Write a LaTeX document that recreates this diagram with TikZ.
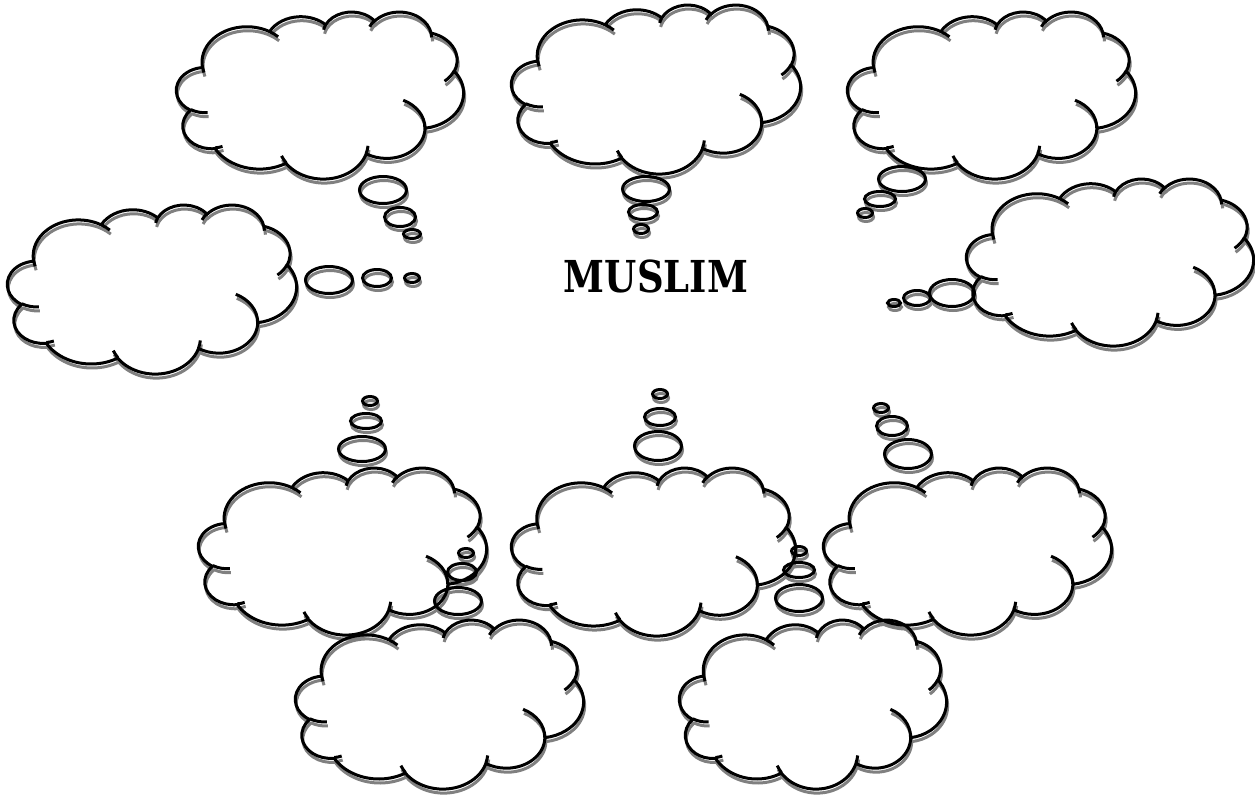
\documentclass[tikz,border=0pt]{standalone}
\usepackage{fontspec}
\usepackage{graphicx}
\newfontfamily\mfont{DejaVu Serif}
% one elliptical arc of the cloud outline (OOXML arcTo, visual angles)
\newcommand\carc[4]{%
  \pgfmathsetmacro\cldA{#3}%
  \pgfmathsetmacro\cldB{#3+#4}%
  \pgfmathsetmacro\cldtA{atan2(#1*sin(\cldA),#2*cos(\cldA))}%
  \pgfmathsetmacro\cldtB{atan2(#1*sin(\cldB),#2*cos(\cldB))}%
  \pgfmathsetmacro\cldd{\cldtB-\cldtA}%
  \pgfmathsetmacro\cldd{\cldd-360*round((\cldd-(#4))/360)}%
  \pgfmathsetmacro\cldtB{\cldtA+\cldd}%
  \pgfpatharc{\cldtA}{\cldtB}{#1pt and #2pt}%
}
\newcommand\cloudshape{%
  \pgfpathmoveto{\pgfpoint{3.900pt}{14.370pt}}%
  \carc{6.753}{9.190}{-190.4875}{123.7805}%
  \carc{5.333}{7.267}{-144.1024}{89.9452}%
  \carc{4.365}{5.945}{-145.8079}{99.7230}%
  \carc{4.857}{6.595}{-130.9861}{117.2417}%
  \carc{5.333}{7.273}{-78.7089}{109.0269}%
  \carc{6.775}{9.220}{-46.2673}{130.2690}%
  \carc{5.785}{7.867}{0.6250}{114.0333}%
  \carc{6.752}{9.215}{22.4516}{115.1726}%
  \carc{7.720}{10.543}{66.2426}{75.7110}%
  \carc{4.360}{5.918}{-274.9421}{146.7356}%
  \carc{4.345}{5.945}{-246.8285}{152.5189}%
  \pgfpathclose
  \pgfpathmoveto{\pgfpoint{4.693pt}{26.177pt}}\carc{4.345}{5.945}{86.7420}{26.4295}%
  \pgfpathmoveto{\pgfpoint{6.928pt}{34.899pt}}\carc{4.360}{5.918}{73.6105}{11.4475}%
  \pgfpathmoveto{\pgfpoint{16.478pt}{39.090pt}}\carc{6.752}{9.215}{137.6242}{14.0811}%
  \pgfpathmoveto{\pgfpoint{28.827pt}{34.751pt}}\carc{6.752}{9.215}{6.4533}{15.9984}%
  \pgfpathmoveto{\pgfpoint{34.129pt}{22.954pt}}\carc{5.785}{7.867}{-70.2924}{70.9174}%
  \pgfpathmoveto{\pgfpoint{41.798pt}{15.354pt}}\carc{5.333}{7.273}{30.3180}{27.7515}%
  \pgfpathmoveto{\pgfpoint{38.324pt}{5.426pt}}\carc{4.857}{6.595}{-13.7443}{14.8589}%
  \pgfpathmoveto{\pgfpoint{29.078pt}{3.952pt}}\carc{4.857}{6.595}{-149.1815}{18.1954}%
  \pgfpathmoveto{\pgfpoint{22.141pt}{4.720pt}}\carc{4.365}{5.945}{-163.4943}{17.6864}%
  \pgfpathmoveto{\pgfpoint{14.000pt}{5.192pt}}\carc{6.753}{9.190}{-66.7070}{12.3194}%
  \pgfpathmoveto{\pgfpoint{4.127pt}{15.789pt}}\carc{6.753}{9.190}{157.6544}{11.8582}%
}
% cloud whose outer outline box has top-left (#1,#2), size #3 x #4 (px)
\newcommand\cloudat[4]{%
  \begin{scope}[shift={(#1pt+1.5pt,-#2pt-1.5pt)},xscale={(#3-3)/43.2},yscale={-(#4-3)/43.2}]
    \cloudshape
    \pgfusepath{stroke}
  \end{scope}}
% bubble: centre (#1,#2), outer radii #3, #4 (px)
\newcommand\bubble[4]{%
  \draw (#1pt,-#2pt) ellipse [x radius=#3pt-1.5pt, y radius=#4pt-1.5pt];}
\newcommand\allshapes{%
  \cloudat{175}{10}{290}{170}%
  \cloudat{6}{203}{292}{172}%
  \cloudat{510}{3}{292}{172}%
  \cloudat{846}{10}{291}{170}%
  \cloudat{965}{177}{290}{170}%
  \cloudat{197}{466}{291}{170}%
  \cloudat{510}{466}{287}{171}%
  \cloudat{822}{466}{291}{170}%
  \cloudat{294}{618}{291}{172}%
  \cloudat{678}{618}{270}{172}%
  \bubble{383}{190}{25}{15}\bubble{400}{217}{17}{11}\bubble{412}{234}{10}{6}%
  \bubble{329}{280}{25}{15}\bubble{377}{278}{16}{10}\bubble{412}{278}{9}{6}%
  \bubble{646}{189}{25}{14}\bubble{643}{212}{16}{9}\bubble{641}{229}{9}{6}%
  \bubble{902}{179}{25}{14}\bubble{880}{199}{17}{9}\bubble{865}{213}{9}{6}%
  \bubble{952}{293}{24}{15}\bubble{917}{298}{15}{9}\bubble{894}{303}{8}{5}%
  \bubble{362}{449}{25}{14}\bubble{366}{421}{17}{9}\bubble{370}{401}{9}{6}%
  \bubble{658}{446}{25}{16}\bubble{660}{417}{17}{10}\bubble{660}{394}{9}{6}%
  \bubble{908}{454}{25}{16}\bubble{892}{426}{17}{11}\bubble{881}{408}{9}{6}%
  \bubble{458}{601}{25}{15}\bubble{462}{572}{16}{10}\bubble{466}{553}{9}{6}%
  \bubble{799}{598}{25}{15}\bubble{799}{570}{17}{9}\bubble{799}{551}{9}{6}%
}
\tikzset{
  cloudshadow/.style={color=black!50, line width=3pt},
  cloudink/.style={color=black, line width=3pt},
  title/.style={font=\mfont\bfseries\fontsize{44}{44}\selectfont, inner sep=0pt}
}
\begin{document}
\begin{tikzpicture}
\useasboundingbox (0,0) rectangle (1255pt,-795pt);
\fill[white] (0,0) rectangle (1255pt,-795pt);
\begin{scope}[cloudshadow, shift={(1pt,-4pt)}]
  \allshapes
\end{scope}
\begin{scope}[cloudink]
  \allshapes
\end{scope}
\node[title] (muslim) at (656pt,-276pt) {\scalebox{0.84}[1]{MUSLIM}};
\end{tikzpicture}
\end{document}
